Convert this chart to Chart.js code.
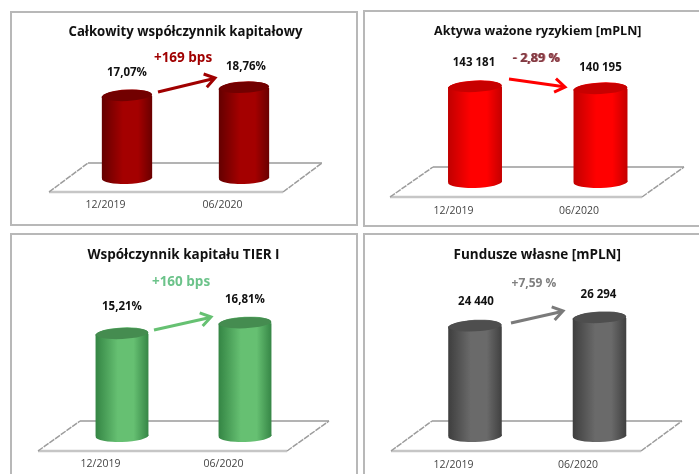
<!DOCTYPE html>
<html>
<head>
<meta charset="utf-8">
<style>
  html, body { margin: 0; padding: 0; background: #fff; width: 699px; height: 474px; overflow: hidden; }
  canvas { position: absolute; }
  .frame { position: absolute; box-sizing: border-box; border: 2px solid #b8b8b8; }
</style>
<script src="https://cdn.jsdelivr.net/npm/chart.js@4/dist/chart.umd.min.js"></script>
</head>
<body>
<script>
const categories = ['12/2019', '06/2020'];

const totalRatio = [17.07, 18.76];
const totalRatioLabels = ['17,07%', '18,76%'];
const riskAssets = [143181, 140195];
const riskAssetsLabels = ['143 181', '140 195'];
const tierOneRatio = [15.21, 16.81];
const tierOneRatioLabels = ['15,21%', '16,81%'];
const ownFunds = [24440, 26294];
const ownFundsLabels = ['24 440', '26 294'];

const FONT = '"Open Sans"';

// box = left, top, width, height of the frame in page pixels, everything else is page pixels too
const panels = [
  {
    title: 'Całkowity współczynnik kapitałowy', titleSize: 13.5, titlePad: [13.5, 1.3], values: totalRatio, labels: totalRatioLabels,
    delta: '+169 bps', deltaAt: [183, 58], deltaColor: '#a00000', deltaSize: 13.5,
    box: [10, 11, 348, 215], yMax: 28.31, padX: [58.5, 55.5], tickPad: 21,
    lift: [23, 21], labelShift: [0, 2],
    back: [88, 322, 163], front: [49, 283, 192],
    arrow: [158, 92, 216, 78], arrowColor: '#a00000',
    stops: ['#640000', '#a40000', '#6a0000'], cap: '#720000'
  },
  {
    title: 'Aktywa ważone ryzykiem [mPLN]', titleSize: 12.5, titlePad: [13.5, 2], values: riskAssets, labels: riskAssetsLabels,
    delta: '- 2,89 %', deltaAt: [536, 58], deltaColor: '#7f3a42', deltaSize: 12.5, deltaGhost: true,
    box: [363, 10, 347, 217], yMax: 213265, padX: [49.25, 46.75], tickPad: 23,
    lift: [24, 21], labelShift: [-1, 0],
    back: [433, 684, 167], front: [390, 642, 197],
    arrow: [509, 79, 566, 87], arrowColor: '#ff0000',
    stops: ['#c00000', '#ff0000', '#c40000'], cap: '#c80000'
  },
  {
    title: 'Współczynnik kapitału TIER I', titleSize: 13.5, titlePad: [14, 1.3], values: tierOneRatio, labels: tierOneRatioLabels,
    delta: '+160 bps', deltaAt: [181, 282], deltaColor: '#6cc38a', deltaSize: 13.5,
    box: [10, 233, 348, 250], yMax: 25.57, padX: [50.5, 51.5], tickPad: 22,
    lift: [27, 24], labelShift: [0, 0],
    back: [80, 329, 421], front: [38, 287, 451],
    arrow: [154, 330, 212, 317], arrowColor: '#66c172',
    stops: ['#348544', '#66c072', '#368646'], cap: '#458c50'
  },
  {
    title: 'Fundusze własne [mPLN]', titleSize: 13.5, titlePad: [14, 1.3], values: ownFunds, labels: ownFundsLabels,
    delta: '+7,59 %', deltaAt: [534, 284], deltaColor: '#7f7f7f', deltaSize: 12,
    box: [363, 233, 347, 250], yMax: 38230, padX: [49.75, 48.25], tickPad: 23,
    lift: [25, 23], labelShift: [1, -1],
    back: [432, 682, 421], front: [391, 641, 451],
    arrow: [511, 323, 564, 311], arrowColor: '#7a7a7a',
    stops: ['#3e3e3e', '#6a6a6a', '#404040'], cap: '#4e4e4e'
  }
];

function barGradient(ctx, bar, stops) {
  const left = bar.x - bar.width / 2;
  const g = ctx.createLinearGradient(left, 0, left + bar.width, 0);
  g.addColorStop(0, stops[0]);
  g.addColorStop(0.42, stops[1]);
  g.addColorStop(0.72, stops[1]);
  g.addColorStop(1, stops[2]);
  return g;
}

const cylinderPlugin = {
  id: 'cylinder',
  beforeDatasetsDraw(chart, args, opts) {
    const ctx = chart.ctx, p = opts.panel;
    const ox = p.box[0], oy = p.box[1];
    ctx.save();
    // floor of the 3D plot
    ctx.lineCap = 'butt';
    ctx.strokeStyle = '#9a9a9a';
    ctx.lineWidth = 1.5;
    ctx.beginPath();
    ctx.moveTo(p.back[0] - ox, p.back[2] - oy);
    ctx.lineTo(p.back[1] - ox, p.back[2] - oy);
    ctx.stroke();
    ctx.strokeStyle = '#c6c6c6';
    ctx.lineWidth = 2.5;
    ctx.beginPath();
    ctx.moveTo(p.front[0] - ox, p.front[2] - oy);
    ctx.lineTo(p.front[1] - ox, p.front[2] - oy);
    ctx.stroke();
    ctx.strokeStyle = '#9c9c9c';
    ctx.lineWidth = 1.5;
    ctx.setLineDash([6, 1]);
    ctx.beginPath();
    ctx.moveTo(p.front[0] - ox, p.front[2] - oy);
    ctx.lineTo(p.back[0] - ox, p.back[2] - oy);
    ctx.moveTo(p.front[1] - ox, p.front[2] - oy);
    ctx.lineTo(p.back[1] - ox, p.back[2] - oy);
    ctx.stroke();
    ctx.setLineDash([]);
    // round bottoms of the bars
    chart.getDatasetMeta(0).data.forEach(bar => {
      ctx.fillStyle = barGradient(ctx, bar, p.stops);
      ctx.beginPath();
      ctx.ellipse(bar.x, bar.base, bar.width / 2, 6, -0.03, 0, Math.PI * 2);
      ctx.fill();
    });
    ctx.restore();
  },
  afterDatasetsDraw(chart, args, opts) {
    const ctx = chart.ctx, p = opts.panel;
    const ox = p.box[0], oy = p.box[1];
    ctx.save();
    chart.getDatasetMeta(0).data.forEach((bar, i) => {
      // cap
      ctx.fillStyle = barGradient(ctx, bar, p.stops);
      ctx.beginPath();
      ctx.ellipse(bar.x, bar.y, bar.width / 2, 6.5, -0.05, 0, Math.PI * 2);
      ctx.fill();
      ctx.fillStyle = p.cap;
      ctx.beginPath();
      ctx.ellipse(bar.x, bar.y - 0.5, bar.width / 2 - 0.5, 5.5, -0.05, 0, Math.PI * 2);
      ctx.fill();
      // value over the bar
      ctx.fillStyle = '#111';
      ctx.font = 'bold 11.5px ' + FONT;
      ctx.textAlign = 'center';
      ctx.textBaseline = 'middle';
      ctx.fillText(p.labels[i], bar.x + p.labelShift[i], bar.y - p.lift[i]);
    });
    // change text
    ctx.font = 'bold ' + p.deltaSize + 'px ' + FONT;
    ctx.fillStyle = p.deltaColor;
    ctx.textAlign = 'center';
    ctx.textBaseline = 'middle';
    if (p.deltaGhost) {
      ctx.shadowColor = 'rgba(170,70,80,0.8)';
      ctx.shadowOffsetX = 1;
      ctx.shadowOffsetY = 0.5;
    }
    ctx.fillText(p.delta, p.deltaAt[0] - ox, p.deltaAt[1] - oy);
    ctx.shadowColor = 'transparent';
    // arrow
    const x1 = p.arrow[0] - ox, y1 = p.arrow[1] - oy, x2 = p.arrow[2] - ox, y2 = p.arrow[3] - oy;
    const a = Math.atan2(y2 - y1, x2 - x1);
    ctx.strokeStyle = p.arrowColor;
    ctx.lineWidth = 3;
    ctx.lineCap = 'butt';
    ctx.lineJoin = 'miter';
    ctx.beginPath();
    ctx.moveTo(x1, y1);
    ctx.lineTo(x2 - Math.cos(a) * 2, y2 - Math.sin(a) * 2);
    ctx.stroke();
    ctx.beginPath();
    ctx.moveTo(x2 - 13 * Math.cos(a - 0.55), y2 - 13 * Math.sin(a - 0.55));
    ctx.lineTo(x2 - 1, y2);
    ctx.lineTo(x2 - 13 * Math.cos(a + 0.55), y2 - 13 * Math.sin(a + 0.55));
    ctx.stroke();
    ctx.restore();
  }
};

panels.forEach(p => {
  const frame = document.createElement('div');
  frame.className = 'frame';
  frame.style.left = p.box[0] + 'px';
  frame.style.top = p.box[1] + 'px';
  frame.style.width = p.box[2] + 'px';
  frame.style.height = p.box[3] + 'px';
  document.body.appendChild(frame);

  const canvas = document.createElement('canvas');
  canvas.width = p.box[2];
  canvas.height = p.box[3];
  canvas.style.left = p.box[0] + 'px';
  canvas.style.top = p.box[1] + 'px';
  document.body.appendChild(canvas);

  const baseY = p.back[2] + 15;
  new Chart(canvas.getContext('2d'), {
    type: 'bar',
    plugins: [cylinderPlugin],
    data: {
      labels: categories,
      datasets: [{
        data: p.values,
        barPercentage: 0.43,
        categoryPercentage: 1,
        backgroundColor(c) {
          const chart = c.chart;
          if (c.type !== 'data' || !chart.chartArea) return p.stops[1];
          const step = (chart.chartArea.right - chart.chartArea.left) / categories.length;
          const x = chart.scales.x.getPixelForTick(c.dataIndex);
          return barGradient(chart.ctx, { x: x, width: step * 0.43 }, p.stops);
        }
      }]
    },
    options: {
      responsive: false,
      animation: false,
      layout: { padding: { left: p.padX[0], right: p.padX[1], top: 0, bottom: 0 } },
      plugins: {
        legend: { display: false },
        tooltip: { enabled: false },
        title: {
          display: true,
          text: p.title,
          color: '#111',
          font: { family: FONT, size: p.titleSize, weight: 'bold' },
          padding: { top: p.titlePad[0], bottom: p.titlePad[1] }
        },
        cylinder: { panel: p }
      },
      scales: {
        x: {
          grid: { display: false, drawTicks: false },
          border: { display: false },
          ticks: {
            color: '#444',
            font: { family: FONT, size: 10.5 },
            padding: p.tickPad,
            labelOffset: -21.5,
            maxRotation: 0
          },
          afterFit(scale) { scale.height = p.box[1] + p.box[3] - baseY; }
        },
        y: { display: false, min: 0, max: p.yMax }
      }
    }
  });
});
</script>
</body>
</html>
